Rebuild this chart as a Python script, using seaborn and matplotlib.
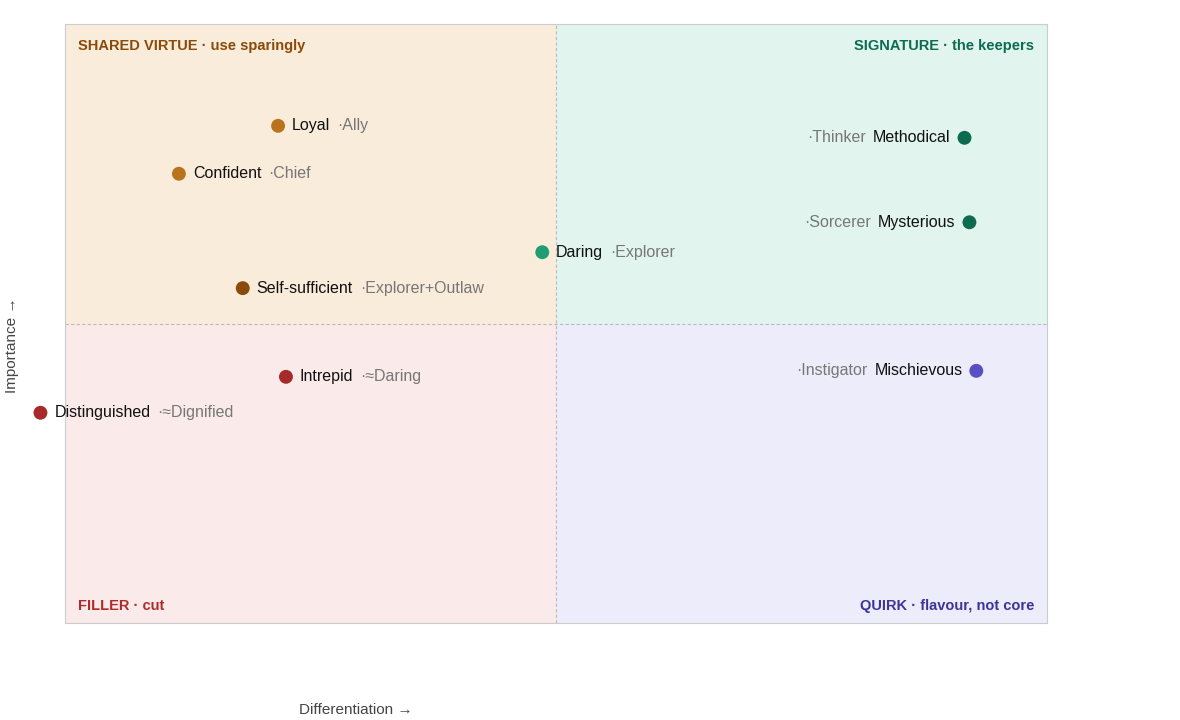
import matplotlib
matplotlib.use("Agg")
import matplotlib.pyplot as plt
import seaborn as sns
import pandas as pd

# Data (0..1 on both axes, midlines at 0.5)
names = ["Loyal", "Confident", "Daring", "Self-sufficient", "Intrepid",
         "Distinguished", "Methodical", "Mysterious", "Mischievous"]
tags = ["·Ally", "·Chief", "·Explorer", "·Explorer+Outlaw", "·≈Daring",
        "·≈Dignified", "·Thinker", "·Sorcerer", "·Instigator"]
differentiation = [0.217, 0.116, 0.486, 0.181, 0.225, -0.025, 0.916, 0.921, 0.928]
importance = [0.830, 0.750, 0.619, 0.559, 0.411, 0.351, 0.810, 0.669, 0.421]
colors = ["#b8731c", "#b8731c", "#1f9e74", "#8a4a0a", "#a62a2a",
          "#a62a2a", "#0d6b50", "#0d6b50", "#5a4fc2"]
label_left = [False, False, False, False, False, False, True, True, True]

quadrants = [
    # x0, y0, fill, title, title colour, corner
    (0.0, 0.5, "#faecda", "SHARED VIRTUE · use sparingly", "#8a4a0a", "tl"),
    (0.5, 0.5, "#e1f4ed", "SIGNATURE · the keepers", "#0d6b50", "tr"),
    (0.0, 0.0, "#faeaea", "FILLER · cut", "#b02a2a", "bl"),
    (0.5, 0.0, "#ececfb", "QUIRK · flavour, not core", "#3d349a", "br"),
]

df = pd.DataFrame({"name": names, "tag": tags, "x": differentiation,
                   "y": importance, "color": colors})

sns.set_style("white")
plt.rcParams["font.family"] = ["Liberation Sans", "DejaVu Sans"]

fig = plt.figure(figsize=(11.8, 7.2), dpi=100)
ax = fig.add_axes([65 / 1180, 97 / 720, 982 / 1180, 599 / 720])
ax.set_xlim(0, 1)
ax.set_ylim(0, 1)

for x0, y0, fill, title, tcol, corner in quadrants:
    ax.add_patch(plt.Rectangle((x0, y0), 0.5, 0.5, color=fill, zorder=0, lw=0))
    tx = x0 + 0.013 if corner[1] == "l" else x0 + 0.5 - 0.013
    ty = y0 + 0.5 - 0.048 if corner[0] == "t" else y0 + 0.017
    ax.text(tx, ty, title, color=tcol, fontsize=10.5, fontweight="bold",
            ha="left" if corner[1] == "l" else "right", va="bottom")

ax.axvline(0.5, color="#bbbbbb", lw=0.8, ls=(0, (3, 2)))
ax.axhline(0.5, color="#bbbbbb", lw=0.8, ls=(0, (3, 2)))

sns.scatterplot(data=df, x="x", y="y", hue="name", palette=dict(zip(names, colors)),
                s=100, edgecolor="none", legend=False, ax=ax, zorder=3)
for coll in ax.collections:
    coll.set_clip_on(False)

for _, r in df.iterrows():
    left = label_left[names.index(r["name"])]
    if left:
        t = ax.annotate(r["name"], (r["x"], r["y"]), xytext=(-10, 0),
                        textcoords="offset points", ha="right", va="center",
                        fontsize=11.5, color="#111111", annotation_clip=False)
        ax.annotate(r["tag"], xy=(0, 0.5), xycoords=t, xytext=(-5, 0),
                    textcoords="offset points", ha="right", va="center",
                    fontsize=11.5, color="#777777", annotation_clip=False)
    else:
        t = ax.annotate(r["name"], (r["x"], r["y"]), xytext=(10, 0),
                        textcoords="offset points", ha="left", va="center",
                        fontsize=11.5, color="#111111", annotation_clip=False)
        ax.annotate(r["tag"], xy=(1, 0.5), xycoords=t, xytext=(5, 0),
                    textcoords="offset points", ha="left", va="center",
                    fontsize=11.5, color="#777777", annotation_clip=False)

ax.set_xticks([])
ax.set_yticks([])
ax.set_xlabel("")
ax.set_ylabel("")
for s in ax.spines.values():
    s.set_color("#cccccc")
    s.set_linewidth(0.8)

fig.text(356 / 1180, 1 - 710 / 720, "Differentiation →", ha="center", va="center",
         fontsize=11, color="#444444")
fig.text(12 / 1180, 1 - 345 / 720, "Importance →", ha="center", va="center",
         rotation=90, fontsize=11, color="#444444")

fig.savefig("out.png", dpi=100)
